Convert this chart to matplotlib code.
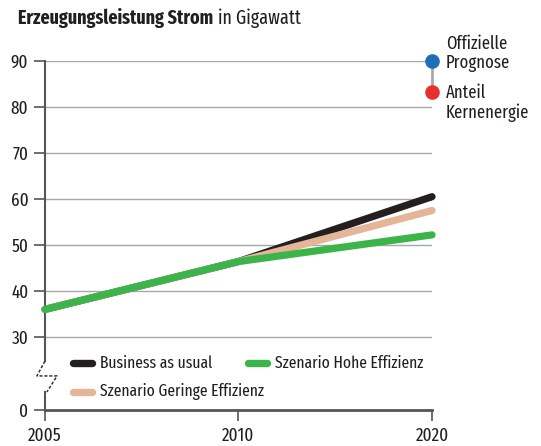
import matplotlib
matplotlib.use("Agg")
import matplotlib.pyplot as plt
from matplotlib.lines import Line2D
from matplotlib.textpath import TextPath
from matplotlib.font_manager import FontProperties
import numpy as np

FAM = 'Fira Sans Extra Condensed'
plt.rcParams['font.family'] = [FAM, 'DejaVu Sans']

years = [2005, 2010, 2020]
business = [36.0, 46.4, 60.5]
gering = [36.0, 46.4, 57.5]
hohe = [36.0, 46.4, 52.2]
yticks = [0, 30, 40, 50, 60, 70, 80, 90]
xticks = [2005, 2010, 2020]
prognose_val = 90
kern_val = 83.3
series_labels = ['Business as usual', 'Szenario Geringe Effizienz', 'Szenario Hohe Effizienz']

C_BLACK = '#231f20'
C_BEIGE = '#e4b597'
C_GREEN = '#3bb44a'
C_BLUE = '#1d70b8'
C_RED = '#e8312f'
C_GRID = '#a8a8a8'
C_AX = '#555555'
C_TXT = '#231f20'

def size_for(text, target_px, weight='normal'):
    fp = FontProperties(family=FAM, weight=weight, size=10)
    w = TextPath((0, 0), text, prop=fp).get_extents().width  # in points at size 10
    return 10 * target_px / (w * 100 / 72)

FS_LEG = size_for('Business as usual', 111)
FS_TICK = size_for('2020', 32)
FS_TITLE = size_for('Erzeugungsleistung Strom', 193, 'bold')
FS_SIDE = size_for('Kernenergie', 81)

BREAK = 30.0
LOW = 30 - 73 / 4.6

def fwd(y):
    y = np.asarray(y, dtype=float)
    return np.where(y >= BREAK, y, LOW + y * (BREAK - LOW) / BREAK)

def inv(v):
    v = np.asarray(v, dtype=float)
    return np.where(v >= BREAK, v, (v - LOW) * BREAK / (BREAK - LOW))

def xfwd(x):
    x = np.asarray(x, dtype=float)
    return np.where(x <= 2010, (x - 2005) / 5.0, 1 + (x - 2010) / 10.0)

def xinv(p):
    p = np.asarray(p, dtype=float)
    return np.where(p <= 1, 2005 + p * 5.0, 2010 + (p - 1) * 10.0)

W, H = 541, 446
def fx(px): return px / W
def fy(py): return 1 - py / H

fig = plt.figure(figsize=(W/100, H/100), dpi=100)
ax = fig.add_axes([fx(45), fy(410), (432-45)/W, (410-61)/H])
ax.set_yscale('function', functions=(fwd, inv))
ax.set_xscale('function', functions=(xfwd, xinv))
ax.set_xlim(2005, 2020)
ax.set_ylim(0, 90)

for t in yticks[1:]:
    ax.axhline(t, color=C_GRID, lw=1.0, zorder=1)

lw = 5.2
ax.plot(years, business, color=C_BLACK, lw=lw, solid_capstyle='round', zorder=3, clip_on=False)
ax.plot(years, gering, color=C_BEIGE, lw=lw, solid_capstyle='round', zorder=4, clip_on=False)
ax.plot(years, hohe, color=C_GREEN, lw=lw, solid_capstyle='round', zorder=5, clip_on=False)

ax.plot([2020, 2020], [prognose_val, kern_val], color=C_GRID, lw=2, zorder=5, clip_on=False)
ax.plot([2020], [prognose_val], 'o', color=C_BLUE, ms=9.5, zorder=6, clip_on=False)
ax.plot([2020], [kern_val], 'o', color=C_RED, ms=9.5, zorder=6, clip_on=False)

for txt, py in [('Offizielle', 44), ('Prognose', 63), ('Anteil', 93), ('Kernenergie', 113)]:
    fig.text(fx(446), fy(py), txt, fontsize=FS_SIDE, va='center', ha='left', color=C_TXT)

for s in ['top', 'right', 'left']:
    ax.spines[s].set_visible(False)
ax.spines['bottom'].set_color(C_AX)
ax.spines['bottom'].set_linewidth(2)

ax.plot([2005, 2005], [90, 20.1], color=C_AX, lw=1.5, zorder=2, clip_on=False)
ax.plot([2005, 2005], [7.4, 0], color=C_AX, lw=1.5, zorder=2, clip_on=False)
ax.plot([2005, 2004.79, 2005.31, 2005.05],
        [20.1, 14.0, 14.0, 7.4],
        color='#333333', lw=1.1, ls=(0, (2, 1.2)), zorder=2, clip_on=False)

ax.set_yticks(yticks)
ax.set_yticklabels([str(t) for t in yticks], fontsize=FS_TICK, color=C_TXT)
ax.set_xticks(xticks)
ax.set_xticklabels([str(t) for t in xticks], fontsize=FS_TICK, color=C_TXT)
ax.tick_params(axis='y', length=8, width=1.2, color=C_AX, pad=4)
ax.tick_params(axis='x', length=8, width=1.2, color=C_AX, pad=4, direction='out')
ax.minorticks_off()

t1 = fig.text(fx(18), fy(18), 'Erzeugungsleistung Strom', fontsize=FS_TITLE, va='center',
              fontweight='bold', color=C_TXT)
fig.canvas.draw()
bb = t1.get_window_extent()
fig.text((bb.x1 + 5) / W, fy(18), 'in Gigawatt', fontsize=FS_TITLE, va='center', color=C_TXT)

# legend (manual layout)
leg = [(C_BLACK, series_labels[0], 73, 363),
       (C_BEIGE, series_labels[1], 73, 392),
       (C_GREEN, series_labels[2], 248, 363)]
for col, lab, px, py in leg:
    fig.add_artist(Line2D([fx(px), fx(px + 19)], [fy(py), fy(py)], color=col, lw=5.3,
                          solid_capstyle='round', transform=fig.transFigure))
    fig.text(fx(px + 27), fy(py), lab, fontsize=FS_LEG, va='center', ha='left', color=C_TXT)

fig.savefig('out.png', dpi=100)
